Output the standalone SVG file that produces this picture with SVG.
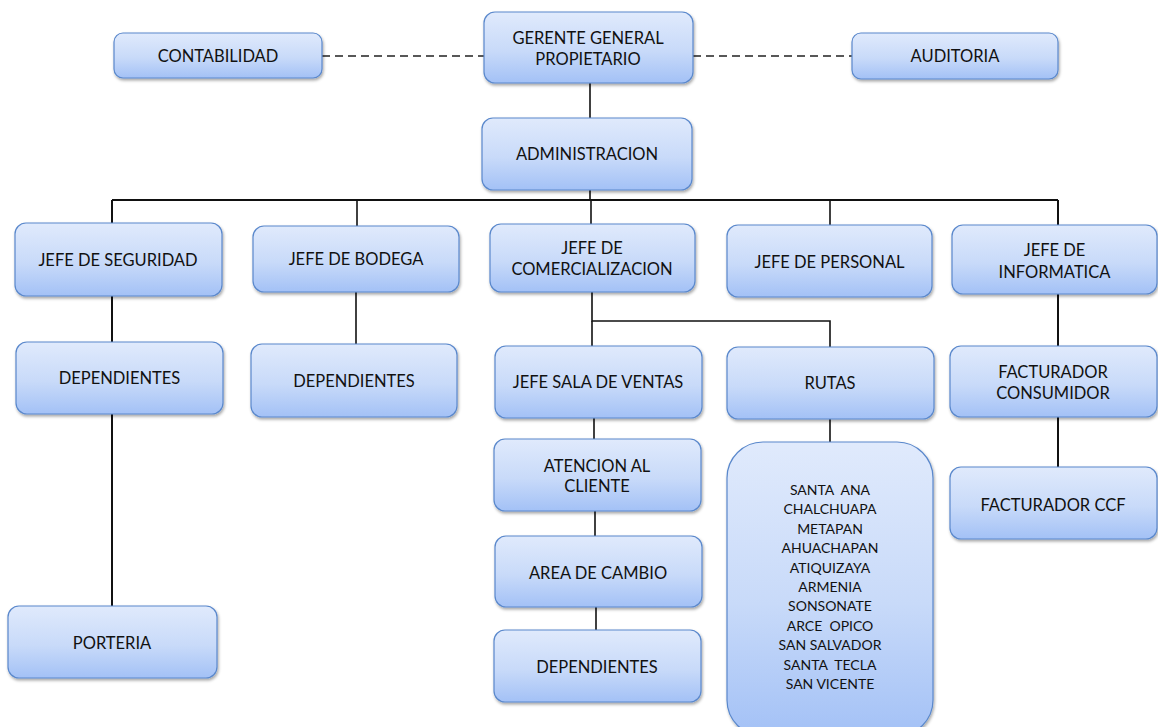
<svg xmlns="http://www.w3.org/2000/svg" width="1158" height="727" viewBox="0 0 1158 727">
<style>
.box{fill:url(#g);stroke:#5a88cc;stroke-width:1.2;filter:url(#sh)}
.t{font-family:Lato,"Liberation Sans",sans-serif;font-size:16.5px;fill:#111;text-anchor:middle}
.s{font-size:14px;white-space:pre}
.c{stroke:#111;stroke-width:1.6;fill:none}
.d{stroke:#222;stroke-width:1.4;fill:none;stroke-dasharray:8 5}
</style>
<defs>
<linearGradient id="g" x1="0" y1="0" x2="0" y2="1">
<stop offset="0" stop-color="#e0eafc"/>
<stop offset="0.55" stop-color="#c8daf9"/>
<stop offset="1" stop-color="#a3c1f6"/>
</linearGradient>
<filter id="sh" x="-10%" y="-10%" width="120%" height="130%">
<feDropShadow dx="1" dy="2" stdDeviation="1.6" flood-color="#000" flood-opacity="0.35"/>
</filter>
</defs>
<rect width="1158" height="727" fill="#fff"/>
<g id="connectors">
<line class="d" x1="322" y1="56" x2="484" y2="56"/>
<line class="d" x1="693" y1="56" x2="852" y2="56"/>
<line class="c" x1="590" y1="83" x2="590" y2="118"/>
<line class="c" x1="590" y1="190" x2="590" y2="200"/>
<line class="c" x1="112" y1="200" x2="1058" y2="200" style="stroke-width:2"/>
<line class="c" x1="112" y1="200" x2="112" y2="223" style="stroke-width:2"/>
<line class="c" x1="357" y1="200" x2="357" y2="226"/>
<line class="c" x1="591" y1="200" x2="591" y2="224"/>
<line class="c" x1="830" y1="200" x2="830" y2="225"/>
<line class="c" x1="1058" y1="200" x2="1058" y2="225" style="stroke-width:2"/>
<line class="c" x1="112" y1="296" x2="112" y2="342" style="stroke-width:2"/>
<line class="c" x1="112" y1="414" x2="112" y2="606" style="stroke-width:2"/>
<line class="c" x1="356" y1="292" x2="356" y2="344"/>
<polyline class="c" points="592,292 592,321 830,321 830,347"/>
<line class="c" x1="592" y1="321" x2="592" y2="346"/>
<line class="c" x1="594" y1="418" x2="594" y2="439"/>
<line class="c" x1="595" y1="511" x2="595" y2="536"/>
<line class="c" x1="596" y1="607" x2="596" y2="630"/>
<line class="c" x1="830" y1="419" x2="830" y2="442"/>
<line class="c" x1="1058" y1="294" x2="1058" y2="346" style="stroke-width:2"/>
<line class="c" x1="1058" y1="417" x2="1058" y2="467" style="stroke-width:2"/>
</g>
<g id="contabilidad"><rect class="box" x="114" y="33" width="208" height="45" rx="9"/><text class="t" x="218" y="62">CONTABILIDAD</text></g>
<g id="gerente"><rect class="box" x="484" y="12" width="209" height="71" rx="11"/><text class="t" x="588" y="43.5">GERENTE GENERAL</text><text class="t" x="588" y="65">PROPIETARIO</text></g>
<g id="auditoria"><rect class="box" x="852" y="33" width="206" height="46" rx="9"/><text class="t" x="955" y="62">AUDITORIA</text></g>
<g id="administracion"><rect class="box" x="482" y="118" width="210" height="72" rx="11"/><text class="t" x="587" y="160">ADMINISTRACION</text></g>
<g id="jefe-seguridad"><rect class="box" x="15" y="223" width="207" height="73" rx="11"/><text class="t" x="118" y="266">JEFE DE SEGURIDAD</text></g>
<g id="jefe-bodega"><rect class="box" x="253" y="226" width="206" height="66" rx="11"/><text class="t" x="356" y="265">JEFE DE BODEGA</text></g>
<g id="jefe-comercializacion"><rect class="box" x="490" y="224" width="205" height="68" rx="11"/><text class="t" x="592" y="254">JEFE DE</text><text class="t" x="592" y="275">COMERCIALIZACION</text></g>
<g id="jefe-personal"><rect class="box" x="727" y="225" width="205" height="72" rx="11"/><text class="t" x="829.5" y="267.5">JEFE DE PERSONAL</text></g>
<g id="jefe-informatica"><rect class="box" x="952" y="225" width="205" height="69" rx="11"/><text class="t" x="1054.5" y="256">JEFE DE</text><text class="t" x="1054.5" y="277.5">INFORMATICA</text></g>
<g id="dependientes-seguridad"><rect class="box" x="16" y="342" width="207" height="72" rx="11"/><text class="t" x="119.5" y="384">DEPENDIENTES</text></g>
<g id="dependientes-bodega"><rect class="box" x="251" y="344" width="206" height="73" rx="11"/><text class="t" x="354" y="386.5">DEPENDIENTES</text></g>
<g id="jefe-sala"><rect class="box" x="495" y="346" width="207" height="72" rx="11"/><text class="t" x="598" y="387.5">JEFE SALA DE VENTAS</text></g>
<g id="rutas"><rect class="box" x="727" y="347" width="207" height="72" rx="11"/><text class="t" x="830" y="389">RUTAS</text></g>
<g id="atencion"><rect class="box" x="494" y="439" width="207" height="72" rx="11"/><text class="t" x="597" y="471.5">ATENCION AL</text><text class="t" x="597" y="492">CLIENTE</text></g>
<g id="area-cambio"><rect class="box" x="495" y="536" width="207" height="71" rx="11"/><text class="t" x="598" y="578.5">AREA DE CAMBIO</text></g>
<g id="dependientes-comercial"><rect class="box" x="494" y="630" width="207" height="72" rx="11"/><text class="t" x="597" y="672.5">DEPENDIENTES</text></g>
<g id="lista-rutas"><rect class="box" x="727" y="442" width="206" height="294" rx="36"/>
<text class="t s" x="830" y="495" xml:space="preserve">SANTA  ANA</text>
<text class="t s" x="830" y="514.4">CHALCHUAPA</text>
<text class="t s" x="830" y="533.8">METAPAN</text>
<text class="t s" x="830" y="553.2">AHUACHAPAN</text>
<text class="t s" x="830" y="572.6">ATIQUIZAYA</text>
<text class="t s" x="830" y="592">ARMENIA</text>
<text class="t s" x="830" y="611.4">SONSONATE</text>
<text class="t s" x="830" y="630.8" xml:space="preserve">ARCE  OPICO</text>
<text class="t s" x="830" y="650.2">SAN SALVADOR</text>
<text class="t s" x="830" y="669.6" xml:space="preserve">SANTA  TECLA</text>
<text class="t s" x="830" y="689">SAN VICENTE</text>
</g>
<g id="facturador-consumidor"><rect class="box" x="950" y="346" width="207" height="71" rx="11"/><text class="t" x="1053" y="378">FACTURADOR</text><text class="t" x="1053" y="398.5">CONSUMIDOR</text></g>
<g id="facturador-ccf"><rect class="box" x="950" y="467" width="207" height="72" rx="11"/><text class="t" x="1053" y="511">FACTURADOR CCF</text></g>
<g id="porteria"><rect class="box" x="8" y="606" width="209" height="72" rx="11"/><text class="t" x="112" y="649">PORTERIA</text></g>
</svg>
